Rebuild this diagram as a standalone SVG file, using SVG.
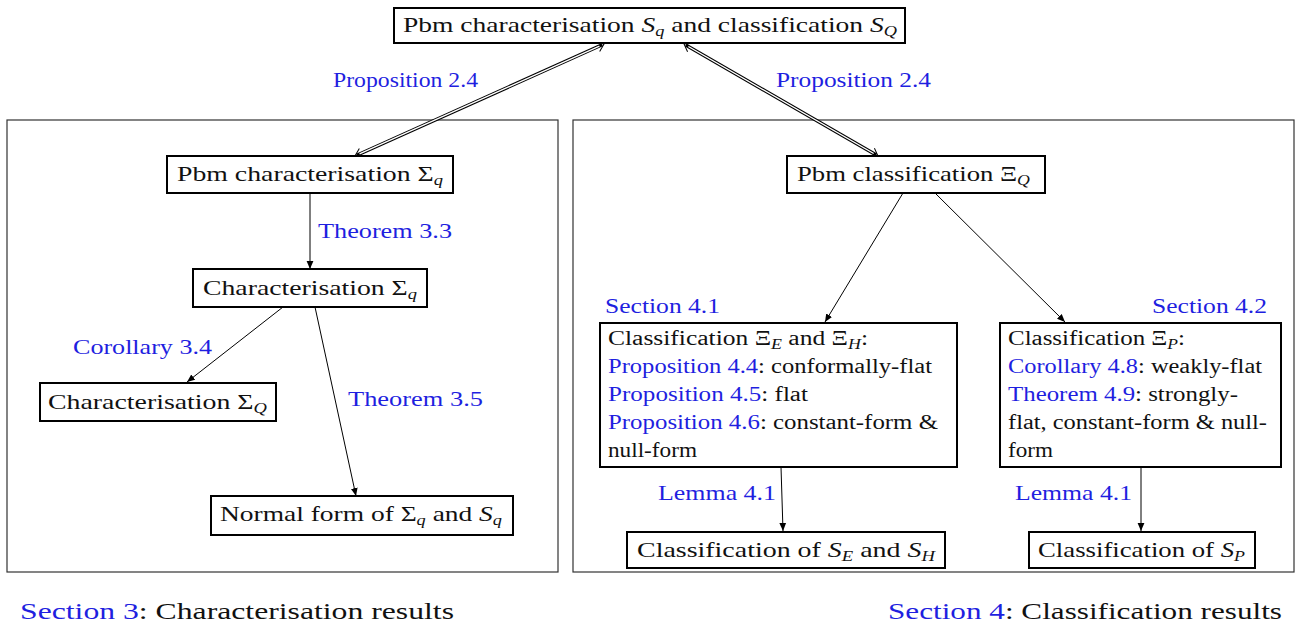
<svg xmlns="http://www.w3.org/2000/svg" width="1303" height="624" viewBox="0 0 1303 624">
<style>
text{font-family:"Liberation Serif","Noto Serif","DejaVu Serif","FreeSerif","Nimbus Roman","Tinos",Times,serif;fill:#111}
.n{font-size:21px}
.x{font-size:20px}
.l{font-size:21px;fill:#1f1fe0}
.ft{font-size:23px}
.b{fill:#1f1fe0}
.i{font-style:italic}
.s{font-size:14px;font-style:italic}
.box{fill:#fff;stroke:#000;stroke-width:2}
.frame{fill:none;stroke:#333;stroke-width:1.2}
.c{fill:none;stroke:#000;stroke-width:1}
.dk{fill:none;stroke:#000;stroke-width:3.4}
.dw{fill:none;stroke:#fff;stroke-width:1.4}
</style>
<defs>
<marker id="ah" markerUnits="userSpaceOnUse" markerWidth="10" markerHeight="8" refX="8" refY="4" orient="auto"><path d="M0,0.6 L8,4 L0,7.4 Z" fill="#000"/></marker>
<marker id="dh" markerUnits="userSpaceOnUse" markerWidth="10" markerHeight="12" refX="5" refY="0" orient="auto-start-reverse" overflow="visible"><path d="M0,-5 L7,0 L0,5" fill="none" stroke="#000" stroke-width="1"/></marker>
</defs>
<rect width="1303" height="624" fill="#fff"/>
<g id="frames">
<rect class="frame" x="7" y="120" width="551" height="452"/>
<rect class="frame" x="573" y="120" width="721" height="452"/>
</g>
<g id="connectors">
<line class="dk" x1="356.82" y1="155.18" x2="602.18" y2="44.82" marker-start="url(#dh)" marker-end="url(#dh)"/>
<line class="dw" x1="359.56" y1="153.95" x2="599.44" y2="46.05"/>
<line class="dk" x1="685.73" y1="45" x2="876.27" y2="155" marker-start="url(#dh)" marker-end="url(#dh)"/>
<line class="dw" x1="688.33" y1="46.5" x2="873.67" y2="153.5"/>
<line class="c" x1="310" y1="193" x2="310" y2="269" marker-end="url(#ah)"/>
<line class="c" x1="283" y1="307" x2="187" y2="382" marker-end="url(#ah)"/>
<line class="c" x1="315" y1="307" x2="356" y2="496" marker-end="url(#ah)"/>
<line class="c" x1="903" y1="193" x2="825" y2="322" marker-end="url(#ah)"/>
<line class="c" x1="935" y1="193" x2="1065" y2="322" marker-end="url(#ah)"/>
<line class="c" x1="781" y1="467" x2="783" y2="531" marker-end="url(#ah)"/>
<line class="c" x1="1141" y1="467" x2="1141" y2="531" marker-end="url(#ah)"/>
<text class="l" x="333" y="87" textLength="145" lengthAdjust="spacingAndGlyphs">Proposition 2.4</text>
<text class="l" x="776" y="87" textLength="155" lengthAdjust="spacingAndGlyphs">Proposition 2.4</text>
<text class="l" x="318" y="238" textLength="134" lengthAdjust="spacingAndGlyphs">Theorem 3.3</text>
<text class="l" x="73" y="354" textLength="139" lengthAdjust="spacingAndGlyphs">Corollary 3.4</text>
<text class="l" x="348" y="406" textLength="135" lengthAdjust="spacingAndGlyphs">Theorem 3.5</text>
<text class="l" x="605" y="313" textLength="115" lengthAdjust="spacingAndGlyphs">Section 4.1</text>
<text class="l" x="1152" y="313" textLength="115" lengthAdjust="spacingAndGlyphs">Section 4.2</text>
<text class="l" x="658" y="500" textLength="118" lengthAdjust="spacingAndGlyphs">Lemma 4.1</text>
<text class="l" x="1015" y="500" textLength="117" lengthAdjust="spacingAndGlyphs">Lemma 4.1</text>
</g>
<g id="n-top">
<rect class="box" x="394" y="8" width="511" height="35"/>
<text class="n" x="403" y="32" textLength="494" lengthAdjust="spacingAndGlyphs">Pbm characterisation <tspan class="i">S</tspan><tspan class="s" dy="4">q</tspan><tspan dy="-4"> and classification </tspan><tspan class="i">S</tspan><tspan class="s" dy="4">Q</tspan></text>
</g>
<g id="n-pbm-char">
<rect class="box" x="167" y="156" width="286" height="37"/>
<text class="n" x="177" y="181" textLength="266" lengthAdjust="spacingAndGlyphs">Pbm characterisation Σ<tspan class="s" dy="4">q</tspan></text>
</g>
<g id="n-pbm-class">
<rect class="box" x="787" y="156" width="258" height="37"/>
<text class="n" x="797" y="181" textLength="233" lengthAdjust="spacingAndGlyphs">Pbm classification Ξ<tspan class="s" dy="4">Q</tspan></text>
</g>
<g id="n-char-q">
<rect class="box" x="193" y="269" width="234" height="38"/>
<text class="n" x="203" y="295" textLength="214" lengthAdjust="spacingAndGlyphs">Characterisation Σ<tspan class="s" dy="4">q</tspan></text>
</g>
<g id="n-char-Q">
<rect class="box" x="40" y="383" width="236" height="38"/>
<text class="n" x="48" y="409" textLength="219" lengthAdjust="spacingAndGlyphs">Characterisation Σ<tspan class="s" dy="4">Q</tspan></text>
</g>
<g id="n-normal">
<rect class="box" x="211" y="496" width="302" height="39"/>
<text class="n" x="220" y="521" textLength="282" lengthAdjust="spacingAndGlyphs">Normal form of Σ<tspan class="s" dy="4">q</tspan><tspan dy="-4"> and </tspan><tspan class="i">S</tspan><tspan class="s" dy="4">q</tspan></text>
</g>
<g id="n-class-EH">
<rect class="box" x="600" y="323" width="357" height="144"/>
<text class="x" x="608" y="345" textLength="260" lengthAdjust="spacingAndGlyphs">Classification Ξ<tspan class="s" dy="4">E</tspan><tspan dy="-4"> and Ξ</tspan><tspan class="s" dy="4">H</tspan><tspan dy="-4">:</tspan></text>
<text class="x" x="608" y="373" textLength="324" lengthAdjust="spacingAndGlyphs"><tspan class="b">Proposition 4.4</tspan>:  conformally-flat</text>
<text class="x" x="608" y="401" textLength="200" lengthAdjust="spacingAndGlyphs"><tspan class="b">Proposition 4.5</tspan>:  flat</text>
<text class="x" x="608" y="429" textLength="330" lengthAdjust="spacingAndGlyphs"><tspan class="b">Proposition 4.6</tspan>:  constant-form &amp;</text>
<text class="x" x="608" y="457" textLength="89" lengthAdjust="spacingAndGlyphs">null-form</text>
</g>
<g id="n-class-P">
<rect class="box" x="1000" y="323" width="281" height="144"/>
<text class="x" x="1008" y="345" textLength="177" lengthAdjust="spacingAndGlyphs">Classification Ξ<tspan class="s" dy="4">P</tspan><tspan dy="-4">:</tspan></text>
<text class="x" x="1008" y="373" textLength="254" lengthAdjust="spacingAndGlyphs"><tspan class="b">Corollary 4.8</tspan>:  weakly-flat</text>
<text class="x" x="1008" y="401" textLength="230" lengthAdjust="spacingAndGlyphs"><tspan class="b">Theorem 4.9</tspan>:  strongly-</text>
<text class="x" x="1008" y="429" textLength="259" lengthAdjust="spacingAndGlyphs">flat, constant-form &amp; null-</text>
<text class="x" x="1008" y="457" textLength="45" lengthAdjust="spacingAndGlyphs">form</text>
</g>
<g id="n-class-SEH">
<rect class="box" x="627" y="532" width="318" height="36"/>
<text class="n" x="637" y="557" textLength="298" lengthAdjust="spacingAndGlyphs">Classification of <tspan class="i">S</tspan><tspan class="s" dy="4">E</tspan><tspan dy="-4"> and </tspan><tspan class="i">S</tspan><tspan class="s" dy="4">H</tspan></text>
</g>
<g id="n-class-SP">
<rect class="box" x="1029" y="532" width="226" height="36"/>
<text class="n" x="1038" y="557" textLength="207" lengthAdjust="spacingAndGlyphs">Classification of <tspan class="i">S</tspan><tspan class="s" dy="4">P</tspan></text>
</g>
<g id="footer">
<text class="ft" x="20" y="619" textLength="434" lengthAdjust="spacingAndGlyphs"><tspan class="b">Section 3</tspan>: Characterisation results</text>
<text class="ft" x="888" y="619" textLength="394" lengthAdjust="spacingAndGlyphs"><tspan class="b">Section 4</tspan>: Classification results</text>
</g>
</svg>
